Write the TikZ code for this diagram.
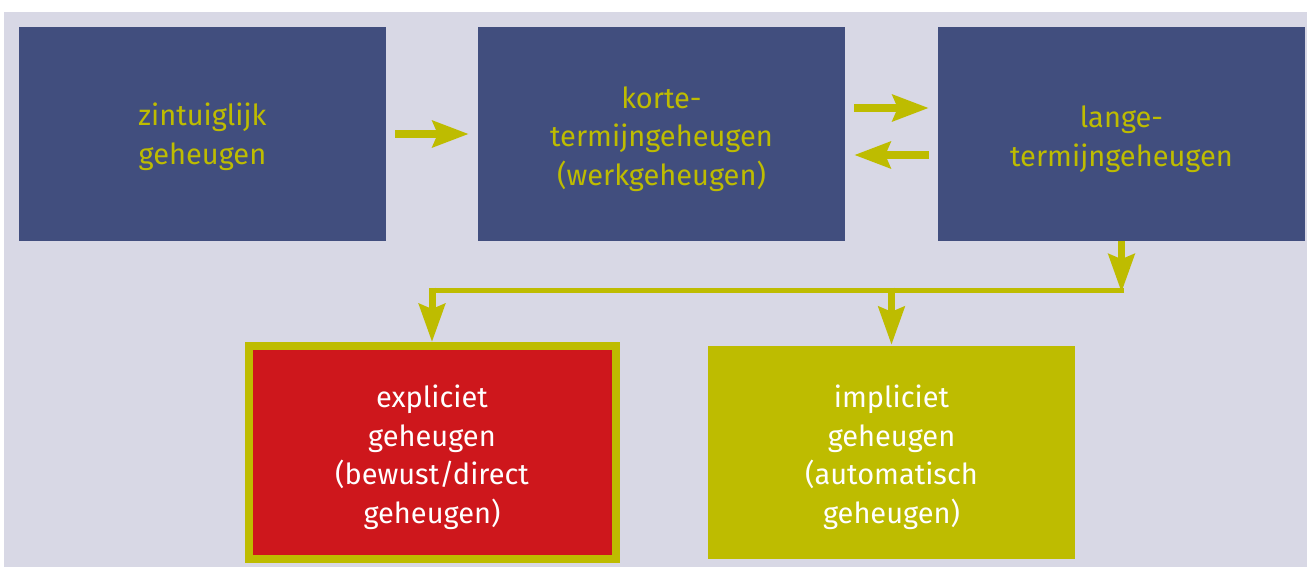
\documentclass[tikz,border=0pt]{standalone}
\usepackage{fontspec}
\setmainfont{Fira Sans}
\usetikzlibrary{arrows.meta,calc}
\definecolor{bgc}{HTML}{D8D8E5}
\definecolor{bluec}{HTML}{414E7E}
\definecolor{yelc}{HTML}{BEBC00}
\definecolor{redc}{HTML}{CE171C}
\tikzset{
  txt/.style={align=center, inner sep=0pt, font=\fontsize{29}{38.5}\selectfont},
  bluebox/.style={fill=bluec, draw=none, minimum width=367pt, minimum height=214pt, inner sep=0pt},
  lowbox/.style={minimum width=367pt, minimum height=213pt, inner sep=0pt},
  btxt/.style={txt, text=yelc},
  wtxt/.style={txt, text=white},
  harrow/.style={draw=yelc, line width=8pt, -{Stealth[length=36pt,width=26pt,inset=5pt]}},
  varrow/.style={draw=yelc, line width=7pt, -{Stealth[length=38pt,width=26pt,inset=5pt]}},
  hline/.style={draw=yelc, line width=5pt}
}
\begin{document}
\begin{tikzpicture}[x=1pt,y=-1pt]
\useasboundingbox (0,0) rectangle (1307,567);
\fill[bgc] (4,12) rectangle (1307,567);
\node[bluebox] (b1) at (202.5,134) {};
\node[bluebox] (b2) at (661.5,134) {};
\node[bluebox] (b3) at (1121.5,134) {};
\node[lowbox, fill=redc, draw=yelc, line width=8pt] (ex) at (432,452.5) {};
\node[lowbox, fill=yelc] (im) at (891.5,452.5) {};
\node[btxt] (t1) at ($(b1.center)+(0,3)$) {zintuiglijk\\geheugen};
\node[btxt] (t2) at ($(b2.center)+(0,5)$) {korte-\\termijngeheugen\\(werkgeheugen)};
\node[btxt] (t3) at ($(b3.center)+(0,5)$) {lange-\\termijngeheugen};
\node[wtxt] (tx) at ($(ex.center)+(0,5)$) {expliciet\\geheugen\\(bewust/direct\\geheugen)};
\node[wtxt] (ti) at ($(im.center)+(0,5)$) {impliciet\\geheugen\\(automatisch\\geheugen)};
\draw[harrow, shorten <=9pt, shorten >=9pt] (b1.east) -- (b2.west);
\draw[harrow, shorten <=9pt, shorten >=9pt] ([yshift=26pt]b2.east) -- ([yshift=26pt]b3.west);
\draw[harrow, shorten <=9pt, shorten >=9pt] ([yshift=-21pt]b3.west) -- ([yshift=-21pt]b2.east);
\coordinate (hubR) at ($(b3.south)+(0,49)$);
\coordinate (hubL) at (ex.north |- hubR);
\coordinate (hubM) at (im.north |- hubR);
\draw[hline] ([xshift=2.5pt]hubR) -- ([xshift=-3.5pt]hubL);
\draw[varrow] (b3.south) -- ([yshift=-2pt]hubR);
\draw[varrow] ([yshift=2.5pt]hubL) -- (ex.north);
\draw[varrow] ([yshift=2.5pt]hubM) -- ([yshift=1pt]im.north);
\end{tikzpicture}
\end{document}
